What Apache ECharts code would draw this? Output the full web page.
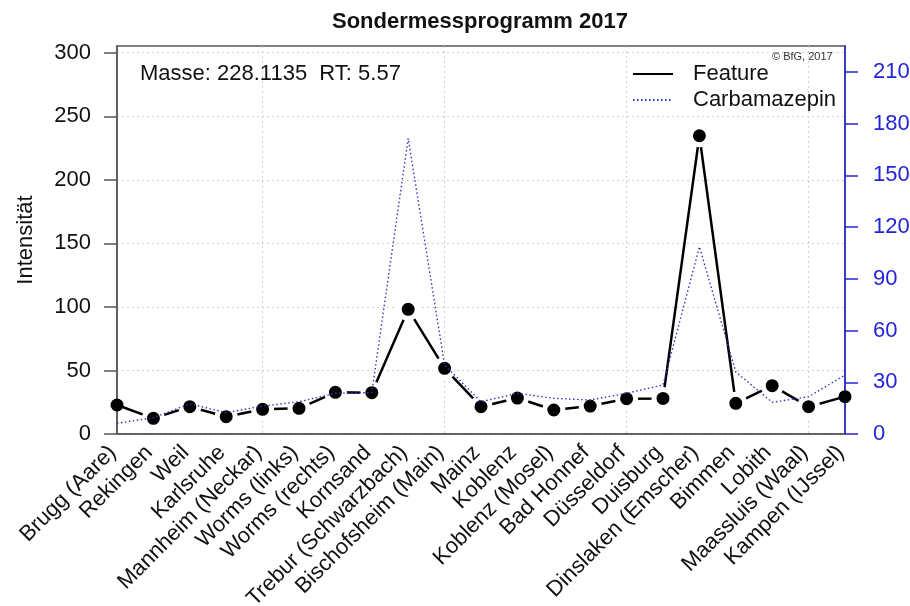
<!DOCTYPE html>
<html>
<head>
<meta charset="utf-8">
<script src="https://cdn.jsdelivr.net/npm/echarts@6/dist/echarts.min.js"></script>
<style>
  html, body { margin: 0; padding: 0; background: #fff; }
  #chart { width: 910px; height: 606px; }
</style>
</head>
<body>
<div id="chart"></div>
<script>
// Sampling stations along the Rhine, upstream to downstream
const stations = [
  'Brugg (Aare)', 'Rekingen', 'Weil', 'Karlsruhe', 'Mannheim (Neckar)',
  'Worms (links)', 'Worms (rechts)', 'Kornsand', 'Trebur (Schwarzbach)',
  'Bischofsheim (Main)', 'Mainz', 'Koblenz', 'Koblenz (Mosel)', 'Bad Honnef',
  'Düsseldorf', 'Duisburg', 'Dinslaken (Emscher)', 'Bimmen', 'Lobith',
  'Maassluis (Waal)', 'Kampen (IJssel)'
];

// Intensity of the feature (left axis)
const featureValues = [
  22.8, 12.3, 21.5, 13.6, 19.4, 20.2, 32.8, 32.5, 98.1, 51.7,
  21.5, 28.3, 18.9, 22.0, 27.8, 28.0, 234.7, 24.1, 38.0, 21.5, 29.4
];

// Intensity of carbamazepine (right axis)
const carbamazepinValues = [
  6.2, 9.5, 17.5, 12.4, 16.2, 18.7, 23.6, 24.0, 171.4, 40.0,
  18.7, 23.6, 20.7, 19.7, 23.6, 28.4, 108.6, 36.0, 18.4, 21.6, 34.2
];

// Tick values of both y axes
const leftTicks = [0, 50, 100, 150, 200, 250, 300];
const rightTicks = [0, 30, 60, 90, 120, 150, 180, 210];
const leftMax = 305.3;
const rightMax = 225;

const FONT = "'Liberation Sans', Arial, sans-serif";
const AXIS_GREY = '#555';
const BLUE = '#2424d8';
const GRID_LINE = { color: '#cfcfcf', type: [2, 3], width: 1 };

// Points on the plot edge get no white halo so the frame stays intact
const lastIdx = featureValues.length - 1;
const featureData = featureValues.map((v, i) =>
  (i === 0 || i === lastIdx)
    ? { value: v, symbolSize: 13, itemStyle: { borderWidth: 0 } }
    : v
);

const chart = echarts.init(document.getElementById('chart'), null, { renderer: 'canvas' });

chart.setOption({
  animation: false,
  backgroundColor: '#fff',
  textStyle: { fontFamily: FONT },
  title: [
    {
      text: 'Sondermessprogramm 2017',
      left: 332, top: 11, padding: 0,
      textStyle: { fontFamily: FONT, fontSize: 22, fontWeight: 'bold', color: '#111' }
    },
    {
      text: 'Masse: 228.1135  RT: 5.57',
      left: 140, top: 63, padding: 0,
      textStyle: { fontFamily: FONT, fontSize: 22, fontWeight: 'normal', color: '#111' }
    },
    {
      text: '© BfG, 2017',
      left: 772, top: 51, padding: 0,
      textStyle: { fontFamily: FONT, fontSize: 11, fontWeight: 'normal', color: '#333' }
    }
  ],
  legend: {
    orient: 'vertical',
    left: 632, top: 63, padding: 0,
    itemWidth: 40, itemHeight: 14, itemGap: 4,
    itemStyle: { opacity: 0 },
    textStyle: { fontFamily: FONT, fontSize: 22, color: '#111', lineHeight: 22, padding: [0, 0, 0, 15] },
    data: [
      { name: 'Feature', lineStyle: { width: 1.8 } },
      { name: 'Carbamazepin' }
    ]
  },
  grid: {
    left: 117, right: 65, top: 46, bottom: 172,
    outerBoundsMode: 'none',
    containLabel: false,
    show: true, borderColor: AXIS_GREY, borderWidth: 1.5,
    backgroundColor: 'transparent'
  },
  xAxis: {
    type: 'category',
    data: stations,
    boundaryGap: false,
    axisLine: { lineStyle: { color: AXIS_GREY, width: 1.5 } },
    axisTick: { show: false },
    axisLabel: {
      interval: 0, rotate: 45, margin: 11,
      padding: [0, 6, 0, 0],
      fontFamily: FONT, fontSize: 22, color: '#111'
    },
    splitLine: {
      show: true,
      interval: (index) => index % 5 === 4,
      lineStyle: GRID_LINE
    }
  },
  yAxis: [
    {
      type: 'value',
      position: 'left',
      min: 0, max: leftMax, interval: 50,
      name: 'Intensität',
      nameLocation: 'middle',
      nameGap: 80,
      nameTextStyle: { fontFamily: FONT, fontSize: 22, color: '#111' },
      axisLine: { show: true, lineStyle: { color: AXIS_GREY, width: 1.5 } },
      axisTick: { show: true, length: 13, customValues: leftTicks, lineStyle: { color: AXIS_GREY, width: 1.5 } },
      axisLabel: { customValues: leftTicks, fontFamily: FONT, fontSize: 22, color: '#111', margin: 26 },
      splitLine: { show: true, lineStyle: GRID_LINE }
    },
    {
      type: 'value',
      position: 'right',
      min: 0, max: rightMax, interval: 30,
      axisLine: { show: true, lineStyle: { color: BLUE, width: 1.5 } },
      axisTick: { show: true, length: 13, customValues: rightTicks, lineStyle: { color: BLUE, width: 1.5 } },
      axisLabel: { customValues: rightTicks, fontFamily: FONT, fontSize: 22, color: BLUE, margin: 28 },
      splitLine: { show: false }
    }
  ],
  series: [
    {
      name: 'Feature',
      type: 'line',
      yAxisIndex: 0,
      data: featureData,
      symbol: 'circle',
      symbolSize: 18,
      showAllSymbol: true,
      itemStyle: { color: '#000', borderColor: '#fff', borderWidth: 5 },
      lineStyle: { color: '#000', width: 2.5 },
      emphasis: { disabled: true },
      z: 2
    },
    {
      name: 'Carbamazepin',
      type: 'line',
      yAxisIndex: 1,
      data: carbamazepinValues,
      symbol: 'none',
      itemStyle: { color: '#3434c4' },
      lineStyle: { color: '#3434c4', width: 1.4, type: [1.5, 2.5] },
      emphasis: { disabled: true },
      z: 3
    }
  ]
});
</script>
</body>
</html>
